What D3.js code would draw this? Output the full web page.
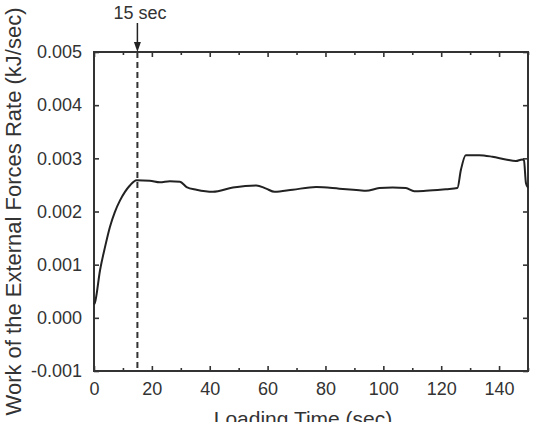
<!DOCTYPE html>
<html>
<head>
<meta charset="utf-8">
<script src="https://cdn.jsdelivr.net/npm/d3@7"></script>
<style>
  body { margin: 0; background: #fff; }
  svg { display: block; font-family: "Liberation Sans", Arial, sans-serif; }
  .axis path { display: none; }
  .axis line { stroke: #333; stroke-width: 1.6; }
  .axis text { fill: #333; font-size: 18px; }
</style>
</head>
<body>
<div id="chart"></div>
<script>
// loading time (sec) and work rate (kJ/sec)
var times = [0, 0.3, 2.1, 3.8, 5.5, 7.2, 9.0, 10.7, 12.4, 14.7, 19.3, 22.8, 26.2, 29.7, 32, 35.4,
             41.1, 48, 56.1, 59.5, 62.4, 68.7, 76.8, 84.8, 91.7, 94, 98.6, 103.2, 107.8, 110.7,
             114.7, 121.6, 125.6, 126.8, 128.5, 133.1, 137.7, 142.3, 145.8, 148, 148.6, 149.3, 150];
var rates = [0.00025, 0.00028, 0.0009, 0.00133, 0.00171, 0.00199, 0.00221, 0.00237, 0.00249, 0.00259,
             0.00258, 0.00255, 0.00257, 0.00256, 0.00246, 0.00241, 0.00237, 0.00245, 0.00249, 0.00243,
             0.00237, 0.00241, 0.00246, 0.00243, 0.0024, 0.00239, 0.00244, 0.00245, 0.00244, 0.00238,
             0.00239, 0.00242, 0.00244, 0.00278, 0.00306, 0.00306, 0.00303, 0.00298, 0.00295, 0.00298,
             0.00296, 0.00253, 0.00245];
var xTicks = [0, 20, 40, 60, 80, 100, 120, 140];
var xMinor = [10, 30, 50, 70, 90, 110, 130, 150];
var yTicks = [-0.001, 0, 0.001, 0.002, 0.003, 0.004, 0.005];
var markTime = 15;
var markLabel = "15 sec";
var xTitle = "Loading Time (sec)";
var yTitle = "Work of the External Forces Rate (kJ/sec)";

var data = times.map(function(t, i) { return {t: t, v: rates[i]}; });

var margin = {top: 52, right: 7, bottom: 51, left: 94};
var width = 535 - margin.left - margin.right,
    height = 422 - margin.top - margin.bottom;

var svg = d3.select("#chart").append("svg")
    .attr("width", 535)
    .attr("height", 422)
  .append("g")
    .attr("transform", "translate(" + margin.left + "," + margin.top + ")");

var x = d3.scaleLinear().domain([0, 150]).range([0, width]);
var y = d3.scaleLinear().domain([-0.001, 0.005]).range([height, 0]);

var fmt = d3.format(".3f");

// axes with inward ticks
svg.append("g").attr("class", "axis")
    .attr("transform", "translate(0," + height + ")")
    .call(d3.axisBottom(x).tickValues(xTicks).tickSizeInner(-5).tickSizeOuter(0).tickPadding(9))
    .selectAll("text").attr("dy", "0.85em");
svg.append("g").attr("class", "axis")
    .attr("transform", "translate(0," + height + ")")
    .call(d3.axisBottom(x).tickValues(xMinor).tickSizeInner(-3).tickSizeOuter(0).tickFormat(""));
svg.append("g").attr("class", "axis")
    .call(d3.axisTop(x).tickValues(xTicks).tickSizeInner(-5).tickSizeOuter(0).tickFormat(""));
svg.append("g").attr("class", "axis")
    .call(d3.axisTop(x).tickValues(xMinor).tickSizeInner(-3).tickSizeOuter(0).tickFormat(""));
svg.append("g").attr("class", "axis")
    .call(d3.axisLeft(y).tickValues(yTicks).tickSizeInner(-5).tickSizeOuter(0).tickPadding(12)
        .tickFormat(function(d) { return fmt(d).replace("\u2212", "-"); }));
svg.append("g").attr("class", "axis")
    .attr("transform", "translate(" + width + ",0)")
    .call(d3.axisRight(y).tickValues(yTicks).tickSizeInner(-5).tickSizeOuter(0).tickFormat(""));

svg.append("rect")
    .attr("width", width)
    .attr("height", height)
    .attr("fill", "none")
    .attr("stroke", "#333")
    .attr("stroke-width", 2);

// dashed marker line
svg.append("line")
    .attr("x1", x(markTime)).attr("x2", x(markTime))
    .attr("y1", 0).attr("y2", height)
    .attr("stroke", "#333")
    .attr("stroke-width", 2)
    .attr("stroke-dasharray", "6,4");

// arrow + label
svg.append("line")
    .attr("x1", x(markTime)).attr("x2", x(markTime))
    .attr("y1", -29).attr("y2", -8)
    .attr("stroke", "#222")
    .attr("stroke-width", 1.5);
svg.append("path")
    .attr("d", "M" + (x(markTime) - 3.5) + ",-10 L" + (x(markTime) + 3.5) + ",-10 L" + x(markTime) + ",0 Z")
    .attr("fill", "#222");
svg.append("text")
    .attr("x", x(markTime) + 2.5)
    .attr("y", -33)
    .attr("text-anchor", "middle")
    .style("font-size", "18px")
    .style("fill", "#333")
    .text(markLabel);

var line = d3.line()
    .x(function(d) { return x(d.t); })
    .y(function(d) { return y(d.v); })
    .curve(d3.curveMonotoneX);

svg.append("path")
    .datum(data)
    .attr("fill", "none")
    .attr("stroke", "#222")
    .attr("stroke-width", 2)
    .attr("d", line);

// titles
svg.append("text")
    .attr("x", width / 2 - 8)
    .attr("y", height + 55)
    .attr("text-anchor", "middle")
    .style("font-size", "21px")
    .style("fill", "#333")
    .text(xTitle);

svg.append("text")
    .attr("transform", "translate(" + (-73) + "," + (height / 2 + 0) + ") rotate(-90)")
    .attr("text-anchor", "middle")
    .style("font-size", "22px")
    .style("fill", "#333")
    .text(yTitle);
</script>
</body>
</html>
